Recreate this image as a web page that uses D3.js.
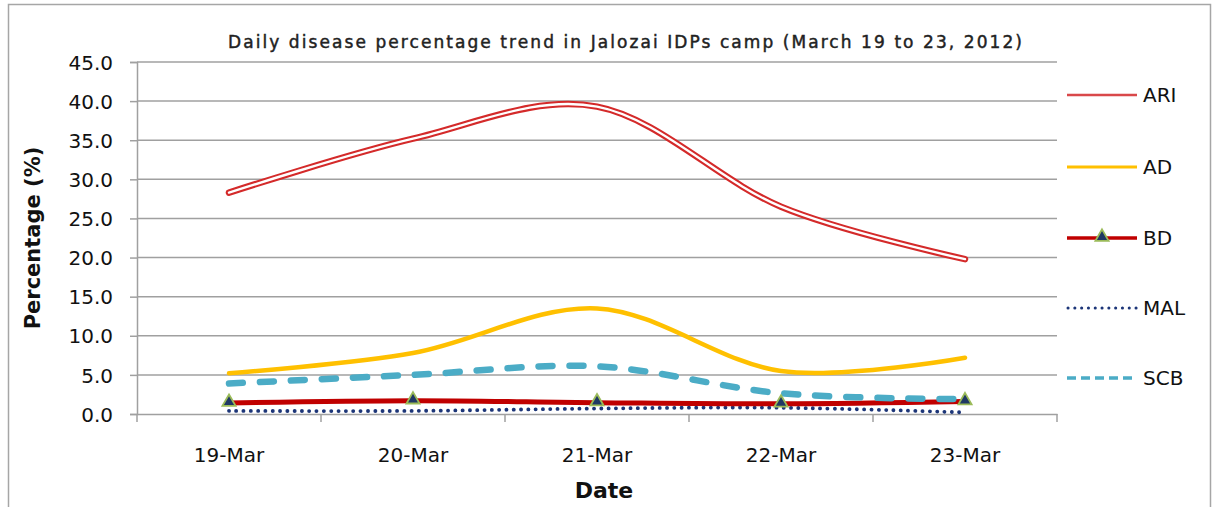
<!DOCTYPE html>
<html>
<head>
<meta charset="utf-8">
<script src="https://cdn.jsdelivr.net/npm/d3@7"></script>
<style>
  html, body { margin: 0; padding: 0; background: #fff; }
  svg { display: block; }
  text { font-family: "DejaVu Sans", sans-serif; fill: #111; }
</style>
</head>
<body>
<svg id="chart" width="1214" height="507"></svg>
<script>
const categories = ["19-Mar", "20-Mar", "21-Mar", "22-Mar", "23-Mar"];
const ARI = [28.3, 35.2, 39.3, 26.5, 19.8];
const AD  = [5.2, 7.8, 13.5, 5.5, 7.2];
const BD  = [1.4, 1.7, 1.45, 1.3, 1.6];
const MAL = [0.4, 0.4, 0.7, 0.8, 0.2];
const SCB = [3.9, 5.0, 6.1, 2.65, 1.9];
const yTicks = [0, 5, 10, 15, 20, 25, 30, 35, 40, 45];
const seriesNames = ["ARI", "AD", "BD", "MAL", "SCB"];
const titleText = "Daily disease percentage trend in Jalozai  IDPs camp (March  19 to 23, 2012)";
const yLabel = "Percentage (%)";
const xLabel = "Date";

const svg = d3.select("#chart");
const plot = { left: 137, right: 1057, top: 62, bottom: 414 };

// outer frame
svg.append("rect").attr("x", 8.5).attr("y", 4.5).attr("width", 1202).attr("height", 510)
  .attr("fill", "none").attr("stroke", "#a6a6a6").attr("stroke-width", 1.5);

const x = d3.scaleBand().domain(categories).range([plot.left, plot.right]);
const y = d3.scaleLinear().domain([0, 45]).range([plot.bottom, plot.top]);
const cx = c => x(c) + x.bandwidth() / 2;

// gridlines
svg.append("g").selectAll("line").data(yTicks.filter(d => d > 0)).join("line")
  .attr("x1", plot.left).attr("x2", plot.right)
  .attr("y1", d => y(d)).attr("y2", d => y(d))
  .attr("stroke", "#a0a0a0").attr("stroke-width", 1.5);

// y axis
const yAxis = d3.axisLeft(y).tickValues(yTicks).tickFormat(d3.format(".1f")).tickSize(7).tickPadding(17);
const gy = svg.append("g").attr("transform", `translate(${plot.left},0)`).call(yAxis);
gy.select(".domain").attr("stroke", "#a0a0a0").attr("stroke-width", 1.5);
gy.selectAll(".tick line").attr("stroke", "#a0a0a0").attr("stroke-width", 1.5);
gy.selectAll(".tick text").attr("font-size", 20).attr("font-family", "DejaVu Sans").attr("fill", "#111").attr("dy", "0.36em");

// x axis
const xAxis = d3.axisBottom(x).tickSize(0).tickPadding(34);
const gx = svg.append("g").attr("transform", `translate(0,${plot.bottom})`).call(xAxis);
gx.select(".domain").attr("stroke", "#a0a0a0").attr("stroke-width", 1.5);
gx.selectAll(".tick text").attr("font-size", 20).attr("font-family", "DejaVu Sans").attr("fill", "#111");
// tick marks at category boundaries
const bounds = categories.map(c => x(c)).concat([x(categories[categories.length - 1]) + x.bandwidth()]);
svg.append("g").selectAll("line").data(bounds).join("line")
  .attr("x1", d => d).attr("x2", d => d)
  .attr("y1", plot.bottom).attr("y2", plot.bottom + 8)
  .attr("stroke", "#a0a0a0").attr("stroke-width", 1.5);

// title
svg.append("text").attr("x", 228).attr("y", 48)
  .attr("font-size", 17)
  .attr("textLength", 794).attr("lengthAdjust", "spacing")
  .style("fill", "#222").style("stroke", "#222").style("stroke-width", 0.45)
  .text(titleText);

// axis labels
svg.append("text").attr("transform", `translate(40,238) rotate(-90)`)
  .attr("text-anchor", "middle").attr("font-size", 21).attr("font-weight", "bold").text(yLabel);
svg.append("text").attr("x", 604).attr("y", 498)
  .attr("text-anchor", "middle").attr("font-size", 22).attr("font-weight", "bold").text(xLabel);

const curve = d3.curveCatmullRom.alpha(0);
const line = d3.line().x((d, i) => cx(categories[i])).y(d => y(d)).curve(curve);

// MAL dotted
svg.append("path").attr("d", line(MAL)).attr("fill", "none")
  .attr("stroke", "#1c3578").attr("stroke-width", 3.8).attr("stroke-linecap", "round")
  .attr("stroke-dasharray", "0.1 7.2");
// BD
svg.append("path").attr("d", line(BD)).attr("fill", "none")
  .attr("stroke", "#c00000").attr("stroke-width", 5);
// SCB dashed
svg.append("path").attr("d", line(SCB)).attr("fill", "none")
  .attr("stroke", "#4bacc6").attr("stroke-width", 6.5).attr("stroke-linecap", "round")
  .attr("stroke-dasharray", "14 17");
// AD
svg.append("path").attr("d", line(AD)).attr("fill", "none")
  .attr("stroke", "#ffc000").attr("stroke-width", 4.5).attr("stroke-linecap", "round");
// ARI double line
svg.append("path").attr("d", line(ARI)).attr("fill", "none")
  .attr("stroke", "#d42a2a").attr("stroke-width", 6.5).attr("stroke-linecap", "round");
svg.append("path").attr("d", line(ARI)).attr("fill", "none")
  .attr("stroke", "#fff").attr("stroke-width", 2.4).attr("stroke-linecap", "round");

// BD markers
const tri = d3.symbol().type(d3.symbolTriangle).size(75);
svg.append("g").selectAll("path").data(BD).join("path")
  .attr("d", tri)
  .attr("transform", (d, i) => `translate(${cx(categories[i])},${y(d) - 1})`)
  .attr("fill", "#1f3864").attr("stroke", "#9bbb59").attr("stroke-width", 1.8);

// legend
const legY = [95, 167, 238, 308, 378];
const lx1 = 1067, lx2 = 1137;
const leg = svg.append("g");
seriesNames.forEach((name, i) => {
  const ly = legY[i];
  const l = leg.append("line").attr("x1", lx1).attr("x2", lx2).attr("y1", ly).attr("y2", ly);
  if (name === "ARI") l.attr("stroke", "#d9484a").attr("stroke-width", 2.5);
  if (name === "AD") l.attr("stroke", "#ffc000").attr("stroke-width", 3);
  if (name === "BD") l.attr("stroke", "#c00000").attr("stroke-width", 3.5);
  if (name === "MAL") l.attr("stroke", "#1c3578").attr("stroke-width", 3).attr("stroke-linecap", "round").attr("stroke-dasharray", "0.1 6.7").attr("x1", lx1 + 1);
  if (name === "SCB") l.attr("stroke", "#4bacc6").attr("stroke-width", 3.5).attr("stroke-dasharray", "9 5");
  if (name === "BD") {
    leg.append("path").attr("d", tri).attr("transform", `translate(${(lx1 + lx2) / 2},${ly - 1})`)
      .attr("fill", "#1f3864").attr("stroke", "#9bbb59").attr("stroke-width", 1.8);
  }
  leg.append("text").attr("x", 1143).attr("y", ly).attr("dy", "0.36em")
    .attr("font-size", 20).text(name);
});
</script>
</body>
</html>
